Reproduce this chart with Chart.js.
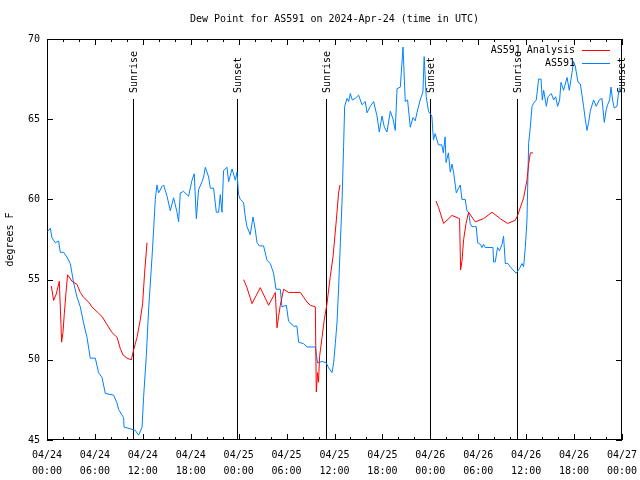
<!DOCTYPE html>
<html><head><meta charset="utf-8">
<script src="https://cdn.jsdelivr.net/npm/chart.js@4.4.1/dist/chart.umd.min.js"></script>
<style>html,body{margin:0;padding:0;background:#fff}</style>
</head><body>
<canvas id="c" width="640" height="480"></canvas>
<script>
const chartTitle = 'Dew Point for AS591 on 2024-Apr-24 (time in UTC)';
const yAxisTitle = 'degrees F';
const seriesNames = ['AS591 Analysis', 'AS591'];
const xTickLabels = [
  ['04/24','00:00'],['04/24','06:00'],['04/24','12:00'],['04/24','18:00'],
  ['04/25','00:00'],['04/25','06:00'],['04/25','12:00'],['04/25','18:00'],
  ['04/26','00:00'],['04/26','06:00'],['04/26','12:00'],['04/26','18:00'],
  ['04/27','00:00']
];
const sunHours = [10.8, 23.85, 34.9, 47.9, 58.8, 71.95];
const sunLabels = ['Sunrise','Sunset','Sunrise','Sunset','Sunrise','Sunset'];

// hours since 04/24 00:00 UTC
const obsHours = [0.08,0.41,0.63,1.04,1.45,1.67,2.08,2.50,2.92,3.33,3.76,4.17,4.58,5.01,5.42,6.05,6.46,6.89,7.30,8.34,8.77,8.97,9.59,9.65,10.43,11.05,11.47,11.90,12.10,12.43,12.72,13.15,13.35,13.56,13.77,13.97,14.40,14.60,15.03,15.44,15.85,16.28,16.48,16.69,17.10,17.73,18.16,18.44,18.70,18.98,19.41,19.61,19.82,20.24,20.45,20.86,21.20,21.49,21.70,21.91,22.11,22.54,22.74,23.17,23.58,23.79,23.99,24.20,24.61,24.83,25.04,25.45,25.80,26.08,26.30,26.62,27.12,27.55,27.96,28.37,28.68,29.21,29.42,29.97,30.25,30.88,31.30,31.51,32.13,32.56,33.60,33.88,34.44,34.97,35.26,35.69,35.89,36.10,36.31,36.51,36.73,36.94,37.14,37.27,37.57,37.77,37.98,38.23,38.61,39.02,39.44,39.86,40.07,40.48,40.90,41.32,41.61,41.95,42.24,42.57,42.99,43.33,43.61,43.83,44.24,44.58,44.86,45.15,45.49,45.82,46.11,46.32,46.73,47.07,47.23,47.48,47.77,47.89,48.19,48.39,48.60,49.01,49.43,49.63,49.85,49.97,50.26,50.50,50.71,50.91,51.25,51.54,51.75,51.96,52.37,52.58,52.79,53.00,53.21,53.75,53.92,54.26,54.47,54.67,54.88,55.84,55.92,56.13,56.42,56.67,56.97,57.17,57.39,57.72,58.01,58.35,58.76,59.18,59.48,59.68,59.89,60.10,60.31,60.52,60.73,60.93,61.27,61.56,61.86,62.02,62.19,62.53,62.73,63.15,63.44,63.69,63.94,64.19,64.36,64.69,65.12,65.40,65.74,65.94,66.15,66.49,66.78,66.99,67.19,67.40,67.62,67.82,68.03,68.44,68.78,69.15,69.49,69.78,70.03,70.20,70.45,70.62,70.82,71.03,71.37,71.57,71.78];
const obsDewpoint = [58.0,58.2,57.6,57.3,57.4,56.7,56.7,56.4,56.0,54.8,53.9,53.3,52.3,51.4,50.1,50.1,49.2,48.9,47.9,47.8,47.3,46.9,46.4,45.8,45.7,45.6,45.3,45.8,47.7,50.2,53.1,56.4,58.1,60.0,60.9,60.4,60.8,60.9,60.2,59.3,60.1,59.2,58.6,60.4,60.5,60.2,61.2,61.6,58.8,60.6,61.1,61.4,62.0,61.4,60.7,60.7,59.2,59.2,60.3,59.2,61.8,62.0,61.1,61.9,61.2,61.7,60.3,60.0,59.8,58.9,58.3,57.8,58.9,58.1,57.3,57.1,57.1,56.2,56.0,55.4,54.4,54.4,53.3,53.4,52.4,52.1,52.1,51.1,51.0,50.8,50.8,49.8,49.9,49.8,49.5,49.2,49.8,51.0,52.3,54.4,57.3,59.8,63.3,65.8,66.3,66.1,66.6,66.2,66.3,66.5,65.9,66.1,65.4,65.8,66.1,65.2,64.2,65.2,64.5,64.2,65.5,65.0,64.3,66.9,67.0,69.5,66.1,66.2,64.5,65.1,64.9,65.4,66.2,66.7,68.9,66.4,65.5,65.4,65.2,63.7,64.1,63.4,63.4,62.9,63.9,62.3,62.9,61.7,62.2,61.7,60.4,60.7,60.9,60.0,60.0,59.3,59.2,58.5,58.3,58.3,57.3,57.2,57.0,57.2,57.0,57.0,56.1,56.1,57.0,56.8,57.2,57.7,56.0,56.0,55.8,55.6,55.4,55.7,56.0,55.8,57.0,58.7,63.5,64.5,65.8,66.0,66.2,67.5,67.5,66.2,66.8,65.8,66.4,66.6,66.2,66.4,65.8,66.2,67.3,66.8,67.6,66.8,67.9,68.6,68.3,67.3,67.2,66.5,65.8,65.0,64.3,64.8,65.5,66.2,65.8,66.2,66.3,64.8,65.6,65.9,66.2,67.0,66.2,65.7,65.8,66.7,67.0];

const anaHours = [0.54,0.83,1.16,1.54,1.75,1.83,2.00,2.17,2.38,2.58,3.13,3.76,4.17,4.58,5.21,5.63,6.46,6.89,7.51,8.14,8.77,9.18,9.52,10.02,10.56,10.84,11.27,11.68,11.97,12.22,12.52,
  18.0,
  24.62,25.04,25.67,26.71,27.75,28.59,28.80,29.00,29.21,29.63,30.25,31.72,32.56,32.97,33.60,33.72,33.88,34.00,34.13,34.44,34.72,35.06,35.47,35.81,36.23,36.51,36.69,
  42.0,
  48.71,49.03,49.66,50.71,51.66,51.79,51.97,52.17,52.47,52.79,53.63,54.67,55.72,56.76,57.67,58.64,58.93,59.68,60.10,60.31,60.52,60.86];
const anaDewpoint = [54.6,53.7,54.1,54.9,52.2,51.1,51.7,52.9,54.2,55.3,54.9,54.7,54.2,53.9,53.6,53.3,52.9,52.7,52.2,51.7,51.4,50.7,50.3,50.1,50.0,50.6,51.4,52.5,53.5,55.4,57.3,
  null,
  55.0,54.5,53.5,54.5,53.4,54.2,52.0,52.7,53.4,54.4,54.2,54.2,53.6,53.4,53.3,48.0,49.2,48.6,50.2,51.4,52.5,53.5,55.2,56.4,58.7,60.4,60.9,
  null,
  59.9,59.5,58.5,59.0,58.8,55.6,56.2,57.5,58.5,59.2,58.6,58.8,59.2,58.8,58.5,58.7,59.0,60.1,61.2,62.2,62.9,62.9];

const FONT = '"DejaVu Sans Mono", "Liberation Mono", monospace';
const toPts = (xs, ys) => xs.map((x, i) => ({x: x, y: ys[i]}));

const gnuplotDecor = {
  id: 'gnuplotDecor',
  beforeDatasetsDraw(chart) {
    const {ctx, chartArea: a, scales: {x, y}} = chart;
    ctx.save();
    ctx.strokeStyle = '#000'; ctx.lineWidth = 1;
    ctx.strokeRect(a.left + 0.5, a.top + 0.5, a.right - a.left - 1, a.bottom - a.top - 1);
    ctx.beginPath();
    x.ticks.forEach(t => {
      const px = Math.round(x.getPixelForValue(t.value)) + 0.5;
      const len = (t.value % 6 === 0) ? 6 : 3;
      ctx.moveTo(px, a.bottom); ctx.lineTo(px, a.bottom - len);
      ctx.moveTo(px, a.top); ctx.lineTo(px, a.top + len);
    });
    y.ticks.forEach(t => {
      const py = Math.round(y.getPixelForValue(t.value)) + 0.5;
      ctx.moveTo(a.left, py); ctx.lineTo(a.left + 6, py);
      ctx.moveTo(a.right, py); ctx.lineTo(a.right - 6, py);
    });
    ctx.stroke();
    ctx.font = '10px ' + FONT;
    ctx.fillStyle = '#000';
    sunHours.forEach((h, i) => {
      const px = Math.min(Math.round(x.getPixelForValue(h)) + 0.5, a.right - 0.5);
      ctx.beginPath();
      ctx.moveTo(px, a.top + 60); ctx.lineTo(px, a.bottom);
      ctx.stroke();
      ctx.save();
      ctx.translate(px + 1, a.top + 54);
      ctx.rotate(-Math.PI / 2);
      ctx.textAlign = 'left'; ctx.textBaseline = 'middle';
      ctx.fillText(sunLabels[i], 0, 0);
      ctx.restore();
    });
    ctx.restore();
  },
  afterDraw(chart) {
    const {ctx, chartArea: a} = chart;
    ctx.save();
    ctx.font = '10px ' + FONT;
    ctx.fillStyle = '#000';
    ctx.textAlign = 'center'; ctx.textBaseline = 'middle';
    ctx.fillText(chartTitle, (a.left + a.right) / 2, 19);
    ctx.save();
    ctx.translate(10, (a.top + a.bottom) / 2);
    ctx.rotate(-Math.PI / 2);
    ctx.fillText(yAxisTitle, 0, 0);
    ctx.restore();
    ctx.textAlign = 'right';
    chart.data.datasets.forEach((ds, i) => {
      const yy = a.top + 11 + i * 13;
      ctx.fillStyle = '#000';
      ctx.fillText(ds.label, a.right - 47, yy);
      ctx.strokeStyle = ds.borderColor; ctx.lineWidth = 1;
      ctx.beginPath();
      ctx.moveTo(a.right - 40, Math.round(yy) + 0.5);
      ctx.lineTo(a.right - 12, Math.round(yy) + 0.5);
      ctx.stroke();
    });
    ctx.restore();
  }
};

new Chart(document.getElementById('c'), {
  type: 'line',
  data: {
    datasets: [
      { label: seriesNames[0], data: toPts(anaHours, anaDewpoint), borderColor: '#ff0000', borderWidth: 1, pointRadius: 0, tension: 0, spanGaps: false, fill: false },
      { label: seriesNames[1], data: toPts(obsHours, obsDewpoint), borderColor: '#0080ff', borderWidth: 1, pointRadius: 0, tension: 0, spanGaps: false, fill: false }
    ]
  },
  options: {
    responsive: false,
    animation: false,
    devicePixelRatio: 1,
    layout: { padding: { top: 39, right: 18, left: 0, bottom: 0 } },
    plugins: { legend: { display: false }, title: { display: false }, tooltip: { enabled: false } },
    scales: {
      x: {
        type: 'linear', min: 0, max: 72,
        grid: { display: false, drawTicks: false },
        border: { display: false },
        afterFit: s => { s.height = 40; s.paddingLeft = 0; s.paddingRight = 0; },
        ticks: {
          stepSize: 2, autoSkip: false, maxRotation: 0, minRotation: 0, padding: 7,
          color: '#000', font: { family: FONT, size: 10, lineHeight: 1.6 },
          callback: v => (v % 6 === 0) ? xTickLabels[v / 6] : ''
        }
      },
      y: {
        type: 'linear', min: 45, max: 70,
        grid: { display: false, drawTicks: false },
        border: { display: false },
        afterFit: s => { s.width = 47; },
        ticks: { stepSize: 5, padding: 7, color: '#000', font: { family: FONT, size: 10 } }
      }
    }
  },
  plugins: [gnuplotDecor]
});
</script>
</body></html>
